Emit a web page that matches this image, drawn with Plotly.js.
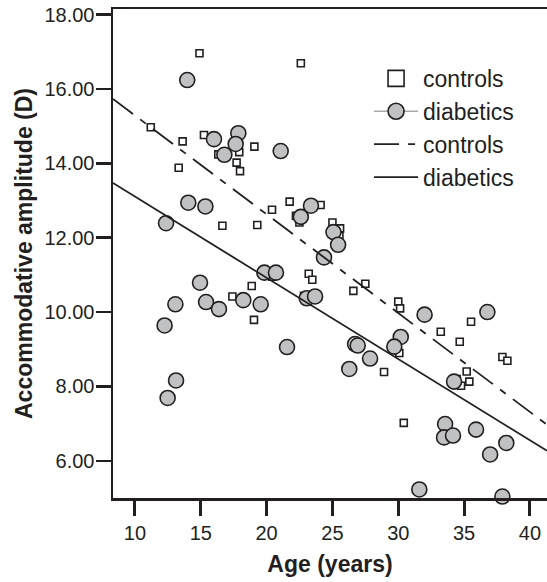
<!DOCTYPE html>
<html>
<head>
<meta charset="utf-8">
<script src="https://cdn.plot.ly/plotly-3.0.1.min.js"></script>
<style>html,body{margin:0;padding:0;background:#fff;}#chart{width:547px;height:582px;}</style>
</head>
<body>
<div id="chart"></div>
<script>
// Controls (squares)
var controlsAge = [14.9, 22.6, 11.2, 13.62, 15.24, 17.85, 19.07, 16.33, 17.92, 13.32, 17.72, 17.98, 16.64, 19.29, 20.41, 21.75, 22.23, 22.49, 24.1, 25.0, 25.58, 25.53, 20.43, 23.2, 23.47, 18.87, 17.4, 19.04, 22.84, 27.5, 26.59, 30.0, 30.14, 35.53, 33.23, 34.67, 30.08, 28.92, 37.91, 38.29, 35.2, 34.44, 34.77, 35.4, 30.42];
var controlsAmp = [16.96, 16.69, 14.97, 14.59, 14.76, 14.72, 14.45, 14.24, 14.30, 13.88, 14.02, 13.79, 12.32, 12.34, 12.75, 12.97, 12.59, 12.41, 12.88, 12.41, 12.25, 12.05, 10.95, 11.03, 10.87, 10.70, 10.42, 9.79, 10.44, 10.76, 10.57, 10.28, 10.10, 9.74, 9.47, 9.20, 8.90, 8.39, 8.79, 8.69, 8.40, 8.20, 8.02, 8.13, 7.02];
// Diabetics (circles)
var diabeticsAge = [13.97, 16.0, 17.85, 17.65, 21.07, 16.79, 14.05, 15.35, 12.36, 23.37, 22.6, 25.08, 25.43, 24.36, 19.83, 20.71, 14.94, 13.07, 15.4, 16.38, 18.23, 19.55, 12.25, 21.55, 23.05, 23.68, 13.12, 12.48, 32.0, 36.77, 30.19, 29.7, 26.72, 26.92, 27.86, 26.28, 34.24, 33.56, 33.48, 34.16, 35.91, 38.21, 36.98, 31.6, 37.91];
var diabeticsAmp = [16.24, 14.65, 14.81, 14.52, 14.33, 14.23, 12.94, 12.84, 12.39, 12.86, 12.56, 12.15, 11.81, 11.47, 11.06, 11.06, 10.79, 10.21, 10.27, 10.08, 10.32, 10.21, 9.64, 9.06, 10.37, 10.42, 8.16, 7.69, 9.93, 10.0, 9.33, 9.07, 9.14, 9.10, 8.75, 8.47, 8.13, 6.99, 6.63, 6.68, 6.84, 6.48, 6.17, 5.23, 5.04];
// Fit line end points
var fitAge = [8.33, 41.3];
var controlsFit = [15.73, 6.97];
var diabeticsFit = [13.47, 6.27];
var xTicks = [10, 15, 20, 25, 30, 35, 40];
var yTicks = [6, 8, 10, 12, 14, 16, 18];
var legendNames = ['controls', 'diabetics', 'controls', 'diabetics'];

var FONT = 'Liberation Sans, Arial, Helvetica, sans-serif';
var INK = '#231f20';
var GREY = '#c0c1c3';

var traces = [
  {x: controlsAge, y: controlsAmp, type: 'scatter', mode: 'markers', showlegend: false, cliponaxis: false,
   marker: {symbol: 'square', size: 7, color: '#ffffff', line: {color: INK, width: 1.6}}},
  {x: diabeticsAge, y: diabeticsAmp, type: 'scatter', mode: 'markers', showlegend: false, cliponaxis: false,
   marker: {symbol: 'circle', size: 15, color: GREY, line: {color: INK, width: 1.6}}},
  // legend entries (no data points of their own)
  {x: [null], y: [null], type: 'scatter', mode: 'markers', name: legendNames[0],
   marker: {symbol: 'square', size: 16, color: '#ffffff', line: {color: INK, width: 1.6}}},
  {x: [null], y: [null], type: 'scatter', mode: 'lines+markers', name: legendNames[1],
   line: {color: '#a9a9a9', width: 1.5},
   marker: {symbol: 'circle', size: 16, color: GREY, line: {color: INK, width: 1.6}}},
  {x: fitAge, y: controlsFit, type: 'scatter', mode: 'lines', name: legendNames[2],
   line: {color: INK, width: 1.8, dash: '25px,9px,7px,9px'}},
  {x: fitAge, y: diabeticsFit, type: 'scatter', mode: 'lines', name: legendNames[3],
   line: {color: INK, width: 1.8}}
];

var layout = {
  width: 547, height: 582,
  margin: {l: 113, r: 0, t: 9, b: 84},
  paper_bgcolor: '#ffffff', plot_bgcolor: '#ffffff',
  font: {family: FONT, color: INK, size: 20},
  showlegend: true,
  legend: {x: 0.59, y: 0.902, xanchor: 'left', yanchor: 'top', bgcolor: 'rgba(0,0,0,0)',
    font: {family: FONT, size: 23, color: INK}, itemwidth: 44, tracegroupgap: 0},
  xaxis: {
    range: [8.33, 41.3], tickmode: 'array', tickvals: xTicks, ticks: 'outside', ticklen: 15, tickwidth: 3,
    tickcolor: INK, showline: true, linecolor: INK, linewidth: 2.5, mirror: true, showgrid: false, zeroline: false,
    tickfont: {family: FONT, size: 20, color: INK},
    title: {text: 'Age (years)', font: {family: FONT, size: 23, color: INK, weight: 'bold'}, standoff: 14}
  },
  yaxis: {
    range: [5.0, 18.15], tickmode: 'array', tickvals: yTicks, tickformat: '.2f', ticks: 'outside', ticklen: 15, tickwidth: 2.5,
    tickcolor: INK, showline: true, linecolor: INK, linewidth: 2.5, showgrid: false, zeroline: false,
    tickfont: {family: FONT, size: 20, color: INK}, ticklabelstandoff: -3,
    title: {text: 'Accommodative amplitude (D)', font: {family: FONT, size: 23, color: INK, weight: 'bold'}, standoff: 6}
  }
};

Plotly.newPlot('chart', traces, layout, {displayModeBar: false, staticPlot: true});
</script>
</body>
</html>
